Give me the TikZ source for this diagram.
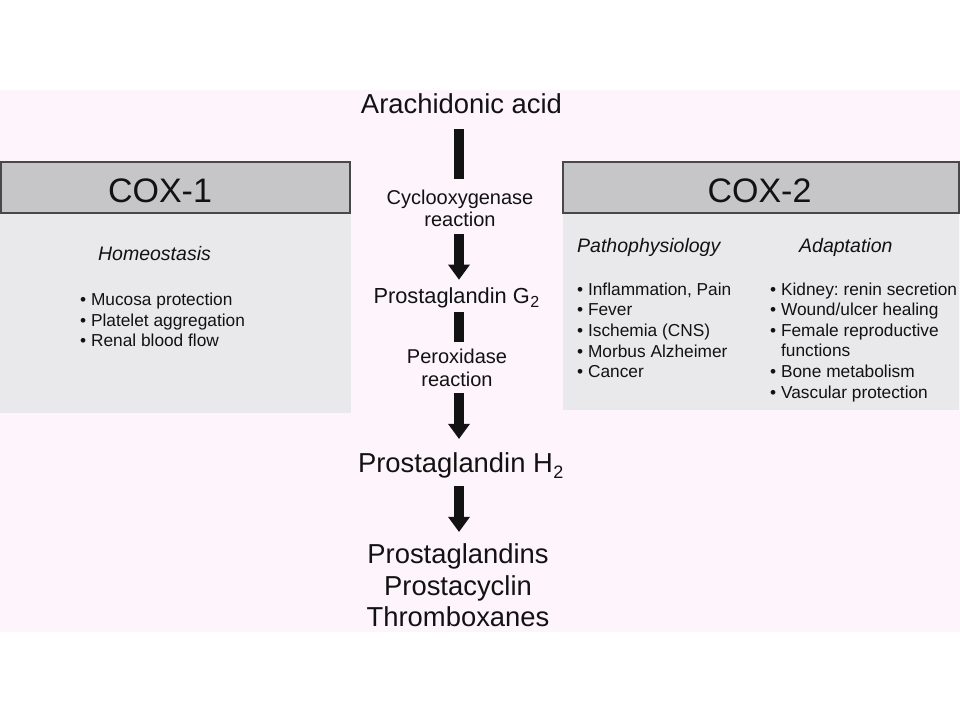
\documentclass[tikz,border=0pt]{standalone}
\usepackage{fontspec}
\setmainfont{Liberation Sans}
\usetikzlibrary{arrows.meta}
\frenchspacing

\definecolor{slidepink}{RGB}{254,245,252}
\definecolor{headgray}{RGB}{198,198,200}
\definecolor{bodygray}{RGB}{233,233,235}
\definecolor{framegray}{RGB}{72,72,72}
\definecolor{ink}{RGB}{18,18,18}

% lowered index two in the text font
\newcommand{\lowtwo}[2]{\kern0.5pt\raisebox{-#1}{\fontsize{#2}{#2}\selectfont 2}}

\begin{document}
\begin{tikzpicture}[x=1pt,y=-1pt,
		bar/.style={line width=10pt,ink},
		fatarrow/.style={line width=10pt,ink,-{Triangle[width=22pt,length=15pt,line width=0pt]}},
		big/.style={inner sep=0pt,outer sep=0pt,text=ink,align=center,font=\fontsize{27.4}{31.4}\selectfont},
		mid/.style={inner sep=0pt,outer sep=0pt,text=ink,font=\fontsize{21.8}{25}\selectfont},
		small/.style={inner sep=0pt,outer sep=0pt,text=ink,align=center,font=\fontsize{20}{22.5}\selectfont},
		coxlabel/.style={inner sep=0pt,text=ink,font=\fontsize{34}{40}\selectfont},
		topic/.style={inner sep=0pt,text=ink,anchor=base west,font=\fontsize{19.5}{23}\selectfont\itshape},
		item/.style={inner sep=0pt,text=ink,anchor=base west,font=\fontsize{17.3}{20.6}\selectfont}]
		\useasboundingbox (0,0) rectangle (960,720);

		% draw the slide background
		\fill[slidepink] (0,90) rectangle (960,632);

		% draw the COX-1 panel
		\fill[bodygray] (0,213) rectangle (351,413);
		\filldraw[fill=headgray,draw=framegray,line width=1.5pt] (0.75,162) rectangle (350,213);
		\node[coxlabel] (cox1) at (160,190.5) {COX-1};
		\node[topic,anchor=base] (homeo) at (154.5,260) {Homeostasis};
		\foreach \item [count=\i] in {Mucosa protection,Platelet aggregation,Renal blood flow}
			\node[item] (one-\i) at (80,{305.7+20.5*(\i-1)}) {\textbullet\ \item};

		% draw the COX-2 panel
		\fill[bodygray] (563,213) rectangle (959,410);
		\filldraw[fill=headgray,draw=framegray,line width=1.5pt] (563,162) rectangle (959,213);
		\node[coxlabel] (cox2) at (759.5,190.5) {COX-2};
		\node[topic] (patho) at (577,252.7) {Pathophysiology};
		\node[topic] (adapt) at (799,252.7) {Adaptation};
		\foreach \item [count=\i] in {{Inflammation, Pain},Fever,Ischemia (CNS),Morbus Alzheimer,Cancer}
			\node[item] (two-\i) at (577,{295+20.7*(\i-1)}) {\textbullet\ \item};
		\foreach \item [count=\i] in {\textbullet\ Kidney: renin secretion,
				\textbullet\ Wound/ulcer healing,
				\textbullet\ Female reproductive,
				\phantom{\textbullet\ }functions,
				\textbullet\ Bone metabolism,
			\textbullet\ Vascular protection}
			\node[item] (three-\i) at (770,{295+20.6*(\i-1)}) {\item};

		% the reaction chain in the middle
		\coordinate (spine) at (459,0);
		\node[big,anchor=base] (aa) at (461.5,113) {Arachidonic acid};
		\node[small,anchor=base] (cox) at (460,226.5) {Cyclooxygenase\\reaction};
		\node[mid,anchor=base west] (pgg) at (373.5,303.3) {Prostaglandin G\lowtwo{4.4pt}{16}};
		\node[small,anchor=base] (per) at (457,386) {Peroxidase\\reaction};
		\node[big,anchor=base west] (pgh) at (358,472.7) {Prostaglandin H\lowtwo{6pt}{18}};
		\node[big,anchor=base] (prod) at (458,626.7) {Prostaglandins\\Prostacyclin\\Thromboxanes};

		% bars and arrows between the steps
		\draw[bar,shorten <=15.5pt,shorten >=10.6pt] (aa.south -| spine) -- (cox.north -| spine);
		\draw[fatarrow,shorten <=7.2pt,shorten >=7.9pt] (cox.south -| spine) -- (pgg.north -| spine);
		\draw[bar,shorten <=4.2pt,shorten >=6.6pt] (pgg.south -| spine) -- (per.north -| spine);
		\draw[fatarrow,shorten <=6.7pt,shorten >=14pt] (per.south -| spine) -- (pgh.north -| spine);
		\draw[fatarrow,shorten <=7.5pt,shorten >=12.2pt] (pgh.south -| spine) -- (prod.north -| spine);
	\end{tikzpicture}
\end{document}
